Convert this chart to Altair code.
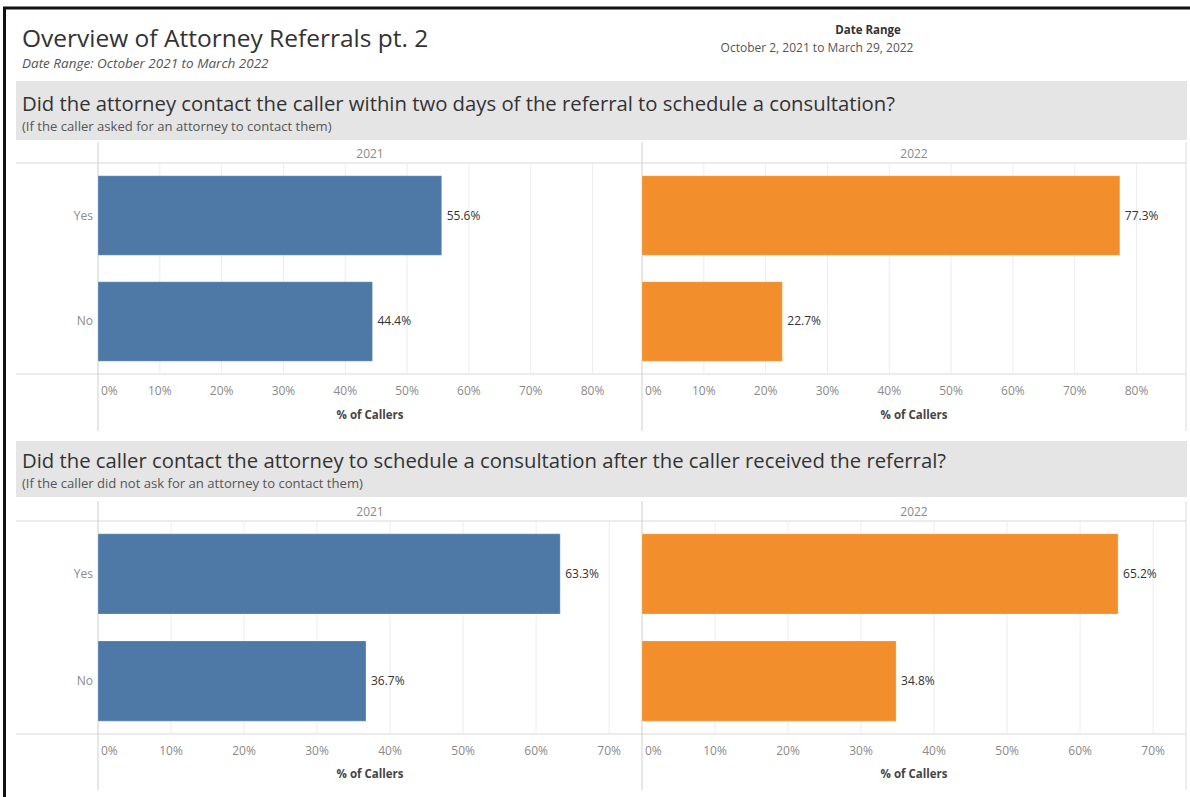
import altair as alt
import pandas as pd

# ---------------- data ----------------
answers = ["Yes", "No"]
years = ["2021", "2022"]

q1_2021 = [0.556, 0.444]
q1_2022 = [0.773, 0.227]
q2_2021 = [0.633, 0.367]
q2_2022 = [0.652, 0.348]

q1_ticks = [0.0, 0.1, 0.2, 0.3, 0.4, 0.5, 0.6, 0.7, 0.8]
q2_ticks = [0.0, 0.1, 0.2, 0.3, 0.4, 0.5, 0.6, 0.7]

q1_domain = [0, 0.88]
q2_domain = [0, 0.745]

year_colors = {"2021": "#4e79a7", "2022": "#f28e2b"}

main_title = "Overview of Attorney Referrals pt. 2"
main_subtitle = "Date Range: October 2021 to March 2022"
range_label = "Date Range"
range_value = "October 2, 2021 to March 29, 2022"
q1_title = "Did the attorney contact the caller within two days of the referral to schedule a consultation?"
q1_note = "(If the caller asked for an attorney to contact them)"
q2_title = "Did the caller contact the attorney to schedule a consultation after the caller received the referral?"
q2_note = "(If the caller did not ask for an attorney to contact them)"
x_title = "% of Callers"

FONT = "Open Sans"
W, H = 1190, 797

one = pd.DataFrame({"d": [0]})


def deco_text(txt, x, y, size, color="#333333", align="left", weight="normal", style="normal"):
    return alt.Chart(one).mark_text(
        text=txt, align=align, baseline="middle", fontSize=size, color=color,
        font=FONT, fontWeight=weight, fontStyle=style,
    ).encode(x=alt.value(x), y=alt.value(y))


def deco_rect(x, x2, y, y2, color):
    return alt.Chart(one).mark_rect(color=color).encode(
        x=alt.value(x), x2=alt.value(x2), y=alt.value(y), y2=alt.value(y2))


def deco_rule(x, x2, y, y2, color, width=1):
    return alt.Chart(one).mark_rule(color=color, strokeWidth=width).encode(
        x=alt.value(x), x2=alt.value(x2), y=alt.value(y), y2=alt.value(y2))


def panel(values, year, ticks, domain, x0, x1, y0, y1, tick_y, title_y, head_y, show_rows):
    df = pd.DataFrame({"answer": answers, "value": values,
                       "label": [f"{v*100:.1f}%" for v in values]})
    tk = pd.DataFrame({"v": ticks, "lab": [f"{round(t*100)}%" for t in ticks]})
    xs = alt.Scale(domain=domain, range=[x0, x1], nice=False, zero=True)
    ys = alt.Scale(domain=answers, range=[y0, y1], paddingInner=0.25, paddingOuter=0.12)
    layers = []
    layers.append(alt.Chart(tk[tk.v > 0]).mark_rule(color="#ededed", strokeWidth=1).encode(
        x=alt.X("v:Q", scale=xs, axis=None), y=alt.value(y0), y2=alt.value(y1)))
    layers.append(alt.Chart(df).mark_bar(color=year_colors[year], stroke="#ffffff",
                                         strokeOpacity=0.25, strokeWidth=1).encode(
        x=alt.X("value:Q", scale=xs, axis=None),
        y=alt.Y("answer:N", scale=ys, axis=None, sort=answers)))
    layers.append(alt.Chart(df).mark_text(align="left", baseline="middle", dx=5, fontSize=12,
                                          color="#333333", font=FONT).encode(
        x=alt.X("value:Q", scale=xs, axis=None),
        y=alt.Y("answer:N", scale=ys, axis=None, sort=answers),
        text="label:N"))
    layers.append(alt.Chart(tk[tk.v > 0]).mark_text(align="center", baseline="middle", fontSize=12,
                                                    color="#8a8a8a", font=FONT).encode(
        x=alt.X("v:Q", scale=xs, axis=None), y=alt.value(tick_y), text="lab:N"))
    layers.append(alt.Chart(tk[tk.v == 0]).mark_text(align="left", baseline="middle", dx=3,
                                                     fontSize=12, color="#8a8a8a", font=FONT).encode(
        x=alt.X("v:Q", scale=xs, axis=None), y=alt.value(tick_y), text="lab:N"))
    if show_rows:
        layers.append(alt.Chart(df).mark_text(align="right", baseline="middle", fontSize=12,
                                              color="#8a8a8a", font=FONT).encode(
            x=alt.value(x0 - 5),
            y=alt.Y("answer:N", scale=ys, axis=None, sort=answers), text="answer:N"))
    layers.append(deco_text(year, (x0 + x1) / 2, head_y, 12, "#8a8a8a", "center"))
    layers.append(deco_text(x_title, (x0 + x1) / 2, title_y, 11.5, "#444444", "center", "bold"))
    return layers


layers = []
# borders
layers.append(deco_rule(3, W, 8, 8, "#111111", 3))
layers.append(deco_rule(4.5, 4.5, 8, H, "#111111", 3))

# header texts
layers.append(deco_text(main_title, 22, 40, 24.5, "#333333"))
layers.append(deco_text(main_subtitle, 22, 64, 13.5, "#555555", style="italic"))
layers.append(deco_text(range_label, 868, 31, 11.5, "#333333", "center", "bold"))
layers.append(deco_text(range_value, 817, 48, 12, "#555555", "center"))

# section bands
for (bt, bb, t, n, ty, ny) in [(81, 140, q1_title, q1_note, 105, 127),
                               (441, 497, q2_title, q2_note, 462, 484)]:
    layers.append(deco_rect(16, 1187, bt, bb, "#e5e5e5"))
    layers.append(deco_text(t, 22, ty, 20.3, "#333333"))
    layers.append(deco_text(n, 22, ny, 13.1, "#555555"))

# section frames
for (top, y0, y1, bottom) in [(142, 163, 374, 431), (501, 521, 734, 790)]:
    layers.append(deco_rule(16, 1186, y0, y0, "#d9d9d9"))
    layers.append(deco_rule(16, 1186, y1, y1, "#d9d9d9"))
    layers.append(deco_rule(98, 98, top, bottom, "#cfcfcf"))
    layers.append(deco_rule(642, 642, top, bottom, "#cfcfcf"))
    layers.append(deco_rule(1186, 1186, top, bottom, "#dcdcdc"))

# panels
layers += panel(q1_2021, "2021", q1_ticks, q1_domain, 98, 642, 163, 374, 391, 416, 154, True)
layers += panel(q1_2022, "2022", q1_ticks, q1_domain, 642, 1186, 163, 374, 391, 416, 154, False)
layers += panel(q2_2021, "2021", q2_ticks, q2_domain, 98, 642, 521, 734, 751, 775, 512, True)
layers += panel(q2_2022, "2022", q2_ticks, q2_domain, 642, 1186, 521, 734, 751, 775, 512, False)

chart = alt.layer(*layers).resolve_scale(x="independent", y="independent").properties(
    width=W, height=H, autosize=alt.AutoSizeParams(type="none"), padding=0,
    background="white",
).configure_view(stroke=None)

chart.save("out.html", embed_options={"renderer": "svg", "actions": False})
